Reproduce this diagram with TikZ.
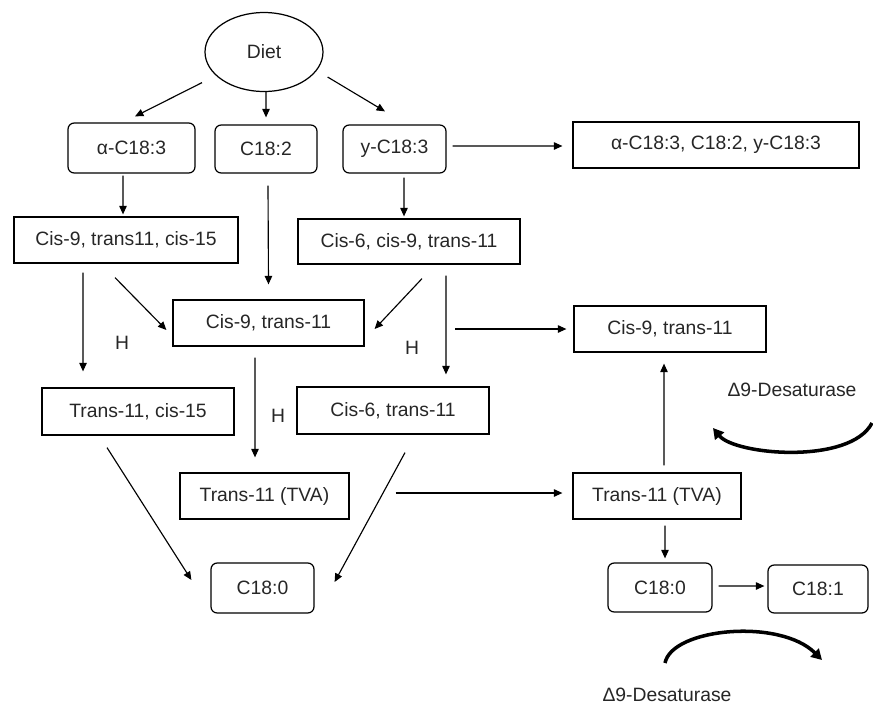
\documentclass[tikz,border=0pt]{standalone}
\usepackage{fontspec}
\setmainfont{Liberation Sans}
\usetikzlibrary{shapes.geometric,arrows.meta}

\begin{document}
\begin{tikzpicture}[
    x=0.02cm, y=-0.02cm,
    every node/.style={font=\fontsize{11}{13}\selectfont, text=black!85},
    box/.style={draw, line width=0.7pt, inner sep=0pt, align=center},
    rbox/.style={box, rounded corners=3.5pt},
    arr/.style={-{Triangle[length=4.8pt,width=4.2pt]}, line width=0.65pt},
    enz/.style={-{Triangle[length=6pt,width=6.5pt]}, line width=2pt}
]
\useasboundingbox (0,0) rectangle (873,704);

\node[box, ellipse, minimum width=2.36cm, minimum height=1.58cm] (diet) at (264,52) {Diet};
\node[rbox, minimum width=2.54cm, minimum height=1cm]   (a183) at (131.5,148) {α-C18:3};
\node[rbox, minimum width=2.04cm, minimum height=.96cm] (c182) at (266,149)   {C18:2};
\node[rbox, minimum width=2.06cm, minimum height=.96cm] (g183) at (394.5,149) {y-C18:3};
\node[box, minimum width=5.72cm, minimum height=.92cm]  (all)  at (716,145)   {α-C18:3, C18:2, y-C18:3};
\node[box, minimum width=4.48cm, minimum height=.92cm]  (cis915)  at (126,240)   {Cis-9, trans11, cis-15};
\node[box, minimum width=4.44cm, minimum height=.9cm]   (cis6911) at (409,241.5) {Cis-6, cis-9, trans-11};
\node[box, minimum width=3.82cm, minimum height=.92cm]  (cis911m) at (268.5,323) {Cis-9, trans-11};
\node[box, minimum width=3.84cm, minimum height=.92cm]  (cis911r) at (670,329)   {Cis-9, trans-11};
\node[box, minimum width=3.84cm, minimum height=.94cm]  (t11c15)  at (138,411.5) {Trans-11, cis-15};
\node[box, minimum width=3.84cm, minimum height=.94cm]  (c6t11)   at (393,410.5) {Cis-6, trans-11};
\node[box, minimum width=3.38cm, minimum height=.92cm]  (tvaL)    at (264.5,496) {Trans-11 (TVA)};
\node[box, minimum width=3.36cm, minimum height=.92cm]  (tvaR)    at (657,496)   {Trans-11 (TVA)};
\node[rbox, minimum width=2.06cm, minimum height=1cm]   (c180L)   at (262.5,588) {C18:0};
\node[rbox, minimum width=2.08cm, minimum height=.98cm] (c180R)   at (660,587.5) {C18:0};
\node[rbox, minimum width=2cm, minimum height=.96cm]    (c181)    at (818,589)   {C18:1};

\node (h1) at (122,343) {H};
\node (h2) at (412,348) {H};
\node (h3) at (278,416) {H};
\node (d9a) at (792,390) {Δ9-Desaturase};
\node (d9b) at (667,695) {Δ9-Desaturase};

% diet
\draw[arr] ([xshift=-1.24cm,yshift=.19cm]diet.south) -- ([xshift=.07cm,yshift=.12cm]a183.north);
\draw[arr] ([xshift=.04cm]diet.south) -- ([yshift=.14cm]c182.north);
\draw[arr] ([xshift=.08cm,yshift=-.5cm]diet.east) -- ([xshift=-.19cm,yshift=.26cm]g183.north);

\draw[arr] ([xshift=-.17cm,yshift=-.04cm]a183.south) -- ([xshift=-.06cm,yshift=.04cm]cis915.north);
\draw[arr] ([xshift=.04cm,yshift=-.24cm]c182.south) -- ([yshift=.3cm]cis911m.north);
\draw[arr] ([xshift=.19cm,yshift=-.08cm]g183.south) -- ([xshift=-.1cm,yshift=.04cm]cis6911.north);
\draw[arr] ([xshift=.12cm,yshift=.06cm]g183.east) -- ([xshift=-.2cm,yshift=-.02cm]all.west);

\draw[arr] ([xshift=-.86cm,yshift=-.18cm]cis915.south) -- ([xshift=-1.1cm,yshift=.32cm]t11c15.north);
\draw[arr] ([xshift=-.22cm,yshift=-.28cm]cis915.south) -- ([xshift=-.12cm,yshift=-.14cm]cis911m.west);
\draw[arr] ([xshift=.26cm,yshift=-.28cm]cis6911.south) -- ([xshift=.2cm,yshift=-.12cm]cis911m.east);
\draw[arr] ([xshift=.74cm,yshift=-.22cm]cis6911.south) -- ([xshift=1.06cm,yshift=.24cm]c6t11.north);
\draw[arr] ([xshift=-2.36cm]cis911r.west) -- ([xshift=-.14cm]cis911r.west);

\draw[arr] ([xshift=-.27cm,yshift=-.22cm]cis911m.south) -- ([xshift=-.19cm,yshift=.3cm]tvaL.north);
\draw[arr] ([xshift=-.62cm,yshift=-.24cm]t11c15.south) -- ([xshift=-.38cm,yshift=.16cm]c180L.west);
\draw[arr] ([xshift=.24cm,yshift=-.36cm]c6t11.south) -- ([xshift=.4cm,yshift=.12cm]c180L.east);
\draw[arr] ([xshift=.92cm,yshift=.06cm]tvaL.east) -- ([xshift=-.2cm,yshift=.06cm]tvaR.west);

\draw[arr] ([xshift=.14cm,yshift=.14cm]tvaR.north) -- ([xshift=-.12cm,yshift=-.22cm]cis911r.south);
\draw[arr] ([xshift=.16cm,yshift=-.12cm]tvaR.south) -- ([xshift=.1cm,yshift=.08cm]c180R.north);
\draw[arr] ([xshift=.12cm,yshift=.03cm]c180R.east) -- ([xshift=-.06cm,yshift=.06cm]c181.west);

% desaturase
\draw[enz] (872,423) .. controls (850,465) and (735,455) .. (713,428);
\draw[enz] (665,663) .. controls (672,628) and (780,618) .. (822,660);
\end{tikzpicture}
\end{document}
